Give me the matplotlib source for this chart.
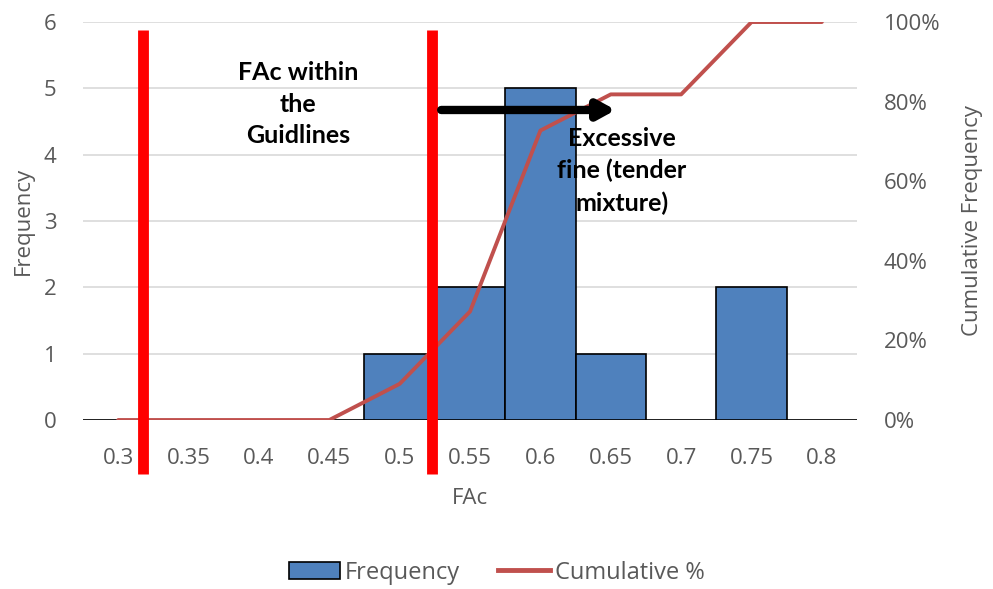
import numpy as np
import matplotlib.pyplot as plt
from matplotlib.lines import Line2D
from matplotlib.patches import Patch
from matplotlib.ticker import PercentFormatter

plt.rcParams['font.family'] = ['Open Sans', 'DejaVu Sans']

categories = ['0.3', '0.35', '0.4', '0.45', '0.5', '0.55', '0.6', '0.65', '0.7', '0.75', '0.8']
frequency = [0, 0, 0, 0, 1, 2, 5, 1, 0, 2, 0]
cumulative = [0, 0, 0, 0, 9.09, 27.27, 72.73, 81.82, 81.82, 100, 100]

# guideline limits (as category positions)
limits = [0.355, 4.46]

bar_color = '#4F81BD'
line_color = '#C0504D'
grey = '#595959'

fig = plt.figure(figsize=(9.93, 5.89), dpi=100)
ax = fig.add_axes([0.0836, 0.2869, 0.7795, 0.6757])
x = np.arange(len(categories))

ax.bar(x, frequency, width=1.0, color=bar_color, edgecolor='black', linewidth=1.2, zorder=2)
ax.set_xlim(-0.5, len(categories) - 0.5)
ax.set_ylim(0, 6)
ax.set_yticks(range(7))
ax.set_xticks(x)
ax.set_xticklabels(categories)
ax.grid(axis='y', color='#D9D9D9', linewidth=1.2, zorder=0)
ax.set_axisbelow(True)
for s in ax.spines.values():
    s.set_visible(False)
ax.tick_params(length=0, labelsize=16, labelcolor=grey)
ax.tick_params(axis='x', pad=20)
ax.tick_params(axis='y', pad=19)
ax.set_xlabel('FAc', fontsize=16, color=grey)
ax.set_ylabel('Frequency', fontsize=16, color=grey)
ax.xaxis.set_label_coords(0.5, -0.172)
ax.yaxis.set_label_coords(-0.064, 0.5)

ax2 = ax.twinx()
ax2.plot(x, np.array(cumulative) / 100, color=line_color, linewidth=2.8,
         solid_capstyle='round', zorder=3)
ax2.set_ylim(0, 1)
ax2.set_yticks(np.linspace(0, 1, 6))
ax2.yaxis.set_major_formatter(PercentFormatter(1.0, decimals=0))
for s in ax2.spines.values():
    s.set_visible(False)
ax2.tick_params(length=0, labelsize=16, labelcolor=grey, pad=19)
ax2.set_ylabel('Cumulative Frequency', fontsize=16, color=grey)
ax2.yaxis.set_label_coords(1.135, 0.5)

# red guideline bars
for lx in limits:
    ax2.plot([lx, lx], [-0.136, 0.98], color='#FF0000', linewidth=7.8,
             solid_capstyle='butt', clip_on=False, zorder=5)

ax2.annotate('', xy=(7.07, 0.779), xytext=(4.59, 0.779),
             arrowprops=dict(arrowstyle='-|>,head_length=1.0,head_width=0.55',
                             color='black', lw=6, shrinkA=0, shrinkB=0),
             zorder=6)

ax2.text(2.56, 0.794, 'FAc within\nthe\nGuidlines', ha='center', va='center',
         family=['Lato', 'DejaVu Sans'], fontsize=18, fontweight='bold',
         linespacing=1.45, zorder=6)
ax2.text(7.16, 0.626, 'Excessive\nfine (tender\nmixture)', ha='center', va='center',
         family=['Lato', 'DejaVu Sans'], fontsize=18, fontweight='bold',
         linespacing=1.45, zorder=6)

handles = [Patch(facecolor=bar_color, edgecolor='black', linewidth=1.2),
           Line2D([0], [0], color=line_color, linewidth=3.5)]
fig.legend(handles, ['Frequency', 'Cumulative %'], loc='center', ncol=2,
           bbox_to_anchor=(0.5, 0.028), frameon=False, fontsize=17,
           labelcolor=grey, handlelength=2.2, handletextpad=0.2, columnspacing=1.6)

fig.savefig('out.png', dpi=100)
